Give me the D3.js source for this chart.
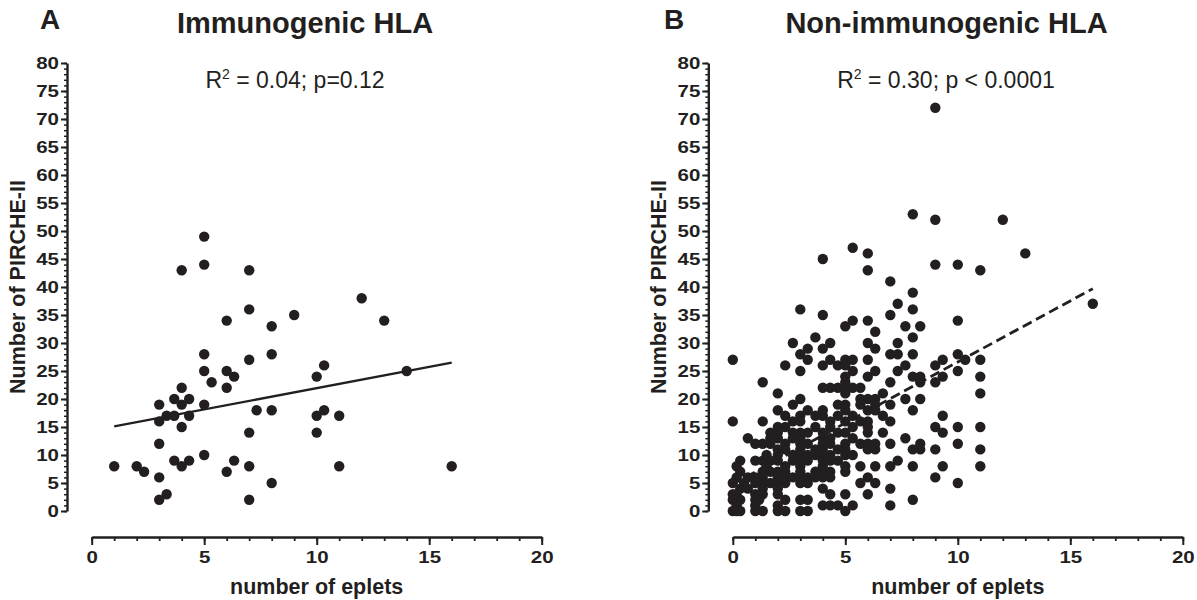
<!DOCTYPE html>
<html><head><meta charset="utf-8">
<script src="https://cdn.jsdelivr.net/npm/d3@7"></script>
<style>
body{margin:0;background:#fff}
svg{display:block}
text{font-family:"Liberation Sans",Arial,Helvetica,sans-serif;fill:#231f20}
</style>
</head><body>
<svg id="c" width="1197" height="600"></svg>
<script>
// ---------- data ----------
const xTicks = [0, 5, 10, 15, 20];
const yTicks = [0, 5, 10, 15, 20, 25, 30, 35, 40, 45, 50, 55, 60, 65, 70, 75, 80];
const panelLetters = ["A", "B"];
const panelTitles = ["Immunogenic HLA", "Non-immunogenic HLA"];
const r2Values = ["0.04", "0.30"];
const pTexts = ["; p=0.12", "; p < 0.0001"];
const xLabel = "number of eplets";
const yLabel = "Number of PIRCHE-II";

// Panel A: immunogenic HLA  [eplets, PIRCHE-II]
const immunoPoints = [
  [5,49],[5,44],[4,43],[7,43],[7,36],[6,34],[9,35],[8,33],[5,28],[8,28],[7,27],
  [5,25],[6,25],[6.33,24],[5.33,23],[6,22],[4,22],[3.67,20],[4.33,20],[3,19],[4,19],
  [5,19],[3.33,17],[3.67,17],[4.33,17],[3,16],[4,15],[3,12],[5,10],[3.67,9],[4.33,9],
  [4,8],[1,8],[2,8],[2.33,7],[3,6],[3.33,3],[3,2],[6,7],[6.33,9],[7,8],[7,2],[8,5],
  [7.33,18],[8,18],[7,14],[10,24],[10.33,26],[10,17],[10.33,18],[10,14],[11,17],[11,8],
  [12,38],[13,34],[14,25],[16,8]
];
const immunoFitX = [1, 16];
const immunoFitY = [15.1, 26.5];

// Panel B: non-immunogenic HLA  [eplets, PIRCHE-II]
const nonImmunoPoints = [
  [9,72],[8,53],[9,52],[12,52],[5.33,47],[6,46],[13,46],[4,45],[9,44],[10,44],[6,43],[11,43],
  [7,41],[8,39],[7.33,37],[16,37],[3,36],[8,36],[4,35],[7,35],[5.33,34],[6,34],[10,34],
  [5,33],[7.67,33],[8.33,33],[6.33,32],[3.67,31],[8,31],[2.67,30],[4.33,30],[6,30],[7.33,30],
  [3.33,29],[4,29],[6.33,29],[3,28],[7,28],[7.33,28],[8,28],[10,28],
  [0,27],[3.33,27],[4.33,27],[5,27],[5.33,27],[6,27],[9.33,27],[10.33,27],[11,27],
  [2.33,26],[4,26],[4.67,26],[5,26],[7.67,26],[9,26],
  [3,25],[5.33,25],[6.33,25],[7.33,25],[10,25],
  [5,24],[6,24],[8,24],[8.33,24],[9.33,24],[11,24],
  [1.33,23],[5,23],[7,23],[8.33,23],[9,23],
  [4,22],[4.33,22],[4.67,22],[5,22],[5.33,22],[5.67,22],
  [2,21],[5,21],[6.67,21],[11,21],
  [3,20],[5.67,20],[6,20],[6.33,20],[7.67,20],[8.33,20],
  [2.67,19],[4.67,19],[5,19],[5.67,19],[6.33,19],[7,19],
  [2,18],[3.33,18],[4,18],[5,18],[6,18],[6.33,18],[8,18],
  [2.33,17],[3,17],[3.67,17],[4,17],[4.67,17],[5.33,17],[6.67,17],[9.33,17],
  [0,16],[1.33,16],[2.67,16],[3,16],[4.33,16],[5,16],[5.67,16],[6,16],[7,16],
  [2,15],[2.33,15],[3.67,15],[4.33,15],[5.33,15],[6,15],[9,15],[10,15],[11,15],
  [1.67,14],[2,14],[2.67,14],[3,14],[3.33,14],[4,14],[4.67,14],[5,14],[6,14],[6.67,14],[9.33,14],
  [0.67,13],[1.67,13],[2,13],[2.67,13],[3,13],[4,13],[4.33,13],[5.33,13],[7.67,13],
  [1,12],[1.33,12],[1.67,12],[2.33,12],[3,12],[3.33,12],[4,12],[4.33,12],[5,12],[5.67,12],[6,12],[6.33,12],[7,12],[8.33,12],[10,12],
  [2,11],[2.33,11],[3,11],[3.67,11],[4,11],[4.67,11],[5,11],[6,11],[6.33,11],[8,11],[8.33,11],[9,11],[11,11],
  [1.5,10],[2,10],[2.67,10],[3,10],[3.33,10],[3.67,10],[4,10],[4.33,10],[5,10],[5.33,10],
  [0.33,9],[1,9],[1.33,9],[1.67,9],[2,9],[2.67,9],[3,9],[3.33,9],[4,9],[4.33,9],[4.67,9],[7.33,9],
  [0.17,8],[1.5,8],[2.33,8],[3,8],[4,8],[5,8],[5.67,8],[6.33,8],[7,8],[8,8],[9.33,8],[11,8],
  [0.33,7],[1.33,7],[1.67,7],[2,7],[2.33,7],[3,7],[3.67,7],[4,7],[4.33,7],[5,7],
  [0.17,6],[0.67,6],[1,6],[1.33,6],[2,6],[2.33,6],[2.67,6],[3,6],[3.33,6],[3.67,6],[4,6],[4.33,6],[6,6],[9,6],
  [0,5],[0.5,5],[1,5],[1.33,5],[1.67,5],[2,5],[2.33,5],[3,5],[3.33,5],[5.67,5],[6.33,5],[10,5],
  [0.33,4],[0.67,4],[1.33,4],[2,4],[4,4],[7,4],
  [0,3],[0.17,3],[1,3],[1.33,3],[2,3],[4.33,3],[5,3],[6,3],
  [0,2],[0.33,2],[1,2],[1.17,2],[2.33,2],[3,2],[3.33,2],[8,2],
  [0.17,1],[1,1],[2,1],[4,1],[4.33,1],[4.67,1],[5.33,1],[7,1],
  [0,0],[0.17,0],[0.33,0],[1,0],[1.33,0],[2,0],[2.33,0],[3,0],[3.33,0],[5,0]
];
const nonImmunoFitX = [0, 16];
const nonImmunoFitY = [4.8, 39.7];

// ---------- drawing ----------
const INK = "#231f20";
const svg = d3.select("#c");

const panels = [
  {i:0, pts: immunoPoints, fx: immunoFitX, fy: immunoFitY, dash: null,
   x0: 91.7, yAxisX: 67, letterX: 40, titleCx: 305, annCx: 295},
  {i:1, pts: nonImmunoPoints, fx: nonImmunoFitX, fy: nonImmunoFitY, dash: "10,5",
   x0: 732.8, yAxisX: 708.3, letterX: 664, titleCx: 946.5, annCx: 946}
];

const AXIS_Y = 537;

function styleTickText(sel){
  sel.selectAll("text")
    .style("font-size","17px").style("font-weight","bold").attr("fill",INK)
    .attr("textLength", d => String(d).length * 11.4)
    .attr("lengthAdjust","spacingAndGlyphs");
}

panels.forEach(p => {
  const g = svg.append("g");
  const x = d3.scaleLinear().domain([0,20]).range([p.x0, p.x0 + 450]);
  const y = d3.scaleLinear().domain([0,80]).range([511, 63]);

  // x axis: minor ticks
  const xMinor = g.append("g").attr("transform", `translate(0,${AXIS_Y})`)
    .call(d3.axisBottom(x).tickValues(d3.range(0,21)).tickSize(4).tickSizeOuter(0).tickFormat(""));
  xMinor.select(".domain").remove();
  xMinor.selectAll("line").attr("stroke", INK).attr("stroke-width", 1.8);
  // x axis: major
  const xMajor = g.append("g").attr("transform", `translate(0,${AXIS_Y})`)
    .call(d3.axisBottom(x).tickValues(xTicks).tickSize(8).tickSizeOuter(0).tickPadding(6));
  xMajor.select(".domain").attr("stroke", INK).attr("stroke-width", 2.4);
  xMajor.selectAll("line").attr("stroke", INK).attr("stroke-width", 2);
  styleTickText(xMajor);

  // y axis: minor
  const yMinor = g.append("g").attr("transform", `translate(${p.yAxisX},0)`)
    .call(d3.axisLeft(y).tickValues(d3.range(0,81)).tickSize(3).tickSizeOuter(0).tickFormat(""));
  yMinor.select(".domain").remove();
  yMinor.selectAll("line").attr("stroke", INK).attr("stroke-width", 1.5);
  // y axis: major
  const yMajor = g.append("g").attr("transform", `translate(${p.yAxisX},0)`)
    .call(d3.axisLeft(y).tickValues(yTicks).tickSize(6).tickSizeOuter(0).tickPadding(2));
  yMajor.select(".domain").attr("stroke", INK).attr("stroke-width", 2.4);
  yMajor.selectAll("line").attr("stroke", INK).attr("stroke-width", 2);
  styleTickText(yMajor);

  // points
  g.append("g").selectAll("circle").data(p.pts).join("circle")
    .attr("cx", d => x(d[0])).attr("cy", d => y(d[1])).attr("r", 5.2)
    .attr("fill", INK);

  // regression line
  const fit = p.fx.map((v,k) => [v, p.fy[k]]);
  g.append("path").datum(fit)
    .attr("d", d3.line().x(d => x(d[0])).y(d => y(d[1])))
    .attr("fill","none").attr("stroke", INK).attr("stroke-width", p.dash ? 2.8 : 2.4)
    .attr("stroke-dasharray", p.dash);

  // panel letter
  g.append("text").attr("x", p.letterX).attr("y", 29)
    .style("font-size","28px").style("font-weight","bold").text(panelLetters[p.i]);
  // title
  g.append("text").attr("x", p.titleCx).attr("y", 32.5).attr("text-anchor","middle")
    .style("font-size","29px").style("font-weight","bold").text(panelTitles[p.i]);
  // annotation
  const ann = g.append("text").attr("x", p.annCx).attr("y", 88).attr("text-anchor","middle")
    .style("font-size","23px");
  ann.append("tspan").text("R");
  ann.append("tspan").attr("dy", -9).style("font-size","14px").text("2");
  ann.append("tspan").attr("dy", 9).text(" = " + r2Values[p.i] + pTexts[p.i]);

  // axis labels
  g.append("text").attr("x", (x(0)+x(20))/2).attr("y", 594).attr("text-anchor","middle")
    .style("font-size","21.5px").style("font-weight","bold").text(xLabel);
  g.append("text").attr("transform", `translate(${p.yAxisX - 42.3},287) rotate(-90)`)
    .attr("text-anchor","middle")
    .style("font-size","21.5px").style("font-weight","bold").text(yLabel);
});
</script>
</body></html>
